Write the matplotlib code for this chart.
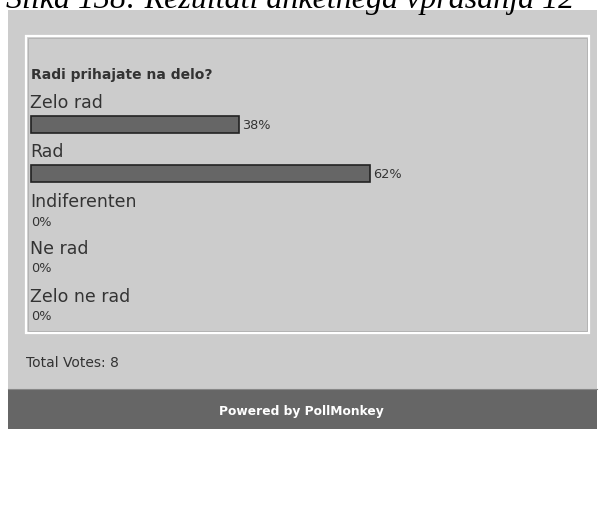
import matplotlib
matplotlib.use('Agg')
import matplotlib.pyplot as plt
from matplotlib.patches import Rectangle

QUESTION = "Radi prihajate na delo?"
OPTIONS = ["Zelo rad", "Rad", "Indiferenten", "Ne rad", "Zelo ne rad"]
PERCENTS = [38, 62, 0, 0, 0]
TOTAL_VOTES = 8
CAPTION = "Slika 138: Rezultati anketnega vprašanja 12"
FOOTER = "Powered by PollMonkey"

W, H = 601, 512
PANEL = '#cccccc'
BAR_FILL = '#666666'
BAR_EDGE = '#222222'
TEXT = '#333333'

fig = plt.figure(figsize=(W / 100, H / 100), dpi=100)
ax = fig.add_axes([0, 0, 1, 1])
ax.set_xlim(0, W)
ax.set_ylim(H, 0)
ax.axis('off')

# figure caption, top half runs off the page
ax.text(6, 8, CAPTION, fontsize=23, family='Liberation Serif', style='italic',
        va='baseline', ha='left', color='black')

# poll widget background and footer strip
ax.add_patch(Rectangle((8, 10), 589, 380, facecolor=PANEL, edgecolor='none'))
ax.add_patch(Rectangle((8, 389), 589, 40, facecolor='#666666', edgecolor='none'))
ax.plot([8, 597], [389, 389], color='#888888', lw=0.8)

# inner results box: white outline with a darker inner line
ax.add_patch(Rectangle((26, 36), 563, 297, facecolor='none', edgecolor='white', lw=1.6))
ax.add_patch(Rectangle((28, 38), 559, 293, facecolor='none', edgecolor='#b4b4b4', lw=0.7))

ax.text(31, 75, QUESTION, fontsize=10, fontweight='bold', color=TEXT,
        va='center', ha='left')

px_per_pct = 5.47
bar_left = 31
label_y = [103, 152, 202, 249, 297]
for name, pct, y in zip(OPTIONS, PERCENTS, label_y):
    ax.text(30, y, name, fontsize=12.5, color=TEXT, va='center', ha='left')
    if pct > 0:
        by = y + 21.5
        bars = ax.barh([by], [pct * px_per_pct], left=bar_left, height=17,
                       color=BAR_FILL, edgecolor=BAR_EDGE, lw=1.2)
        x_end = bars[0].get_x() + bars[0].get_width()
        ax.text(x_end + 3, by + 1, f"{pct}%", fontsize=9.3, color=TEXT,
                va='center', ha='left')
    else:
        ax.text(bar_left, y + 20, f"{pct}%", fontsize=9.3, color=TEXT,
                va='center', ha='left')

ax.text(26, 363, f"Total Votes: {TOTAL_VOTES}", fontsize=10, color=TEXT,
        va='center', ha='left')
ax.text(301, 411, FOOTER, fontsize=8.8, fontweight='bold', color='white',
        va='center', ha='center')

fig.savefig('out.png', dpi=100)
